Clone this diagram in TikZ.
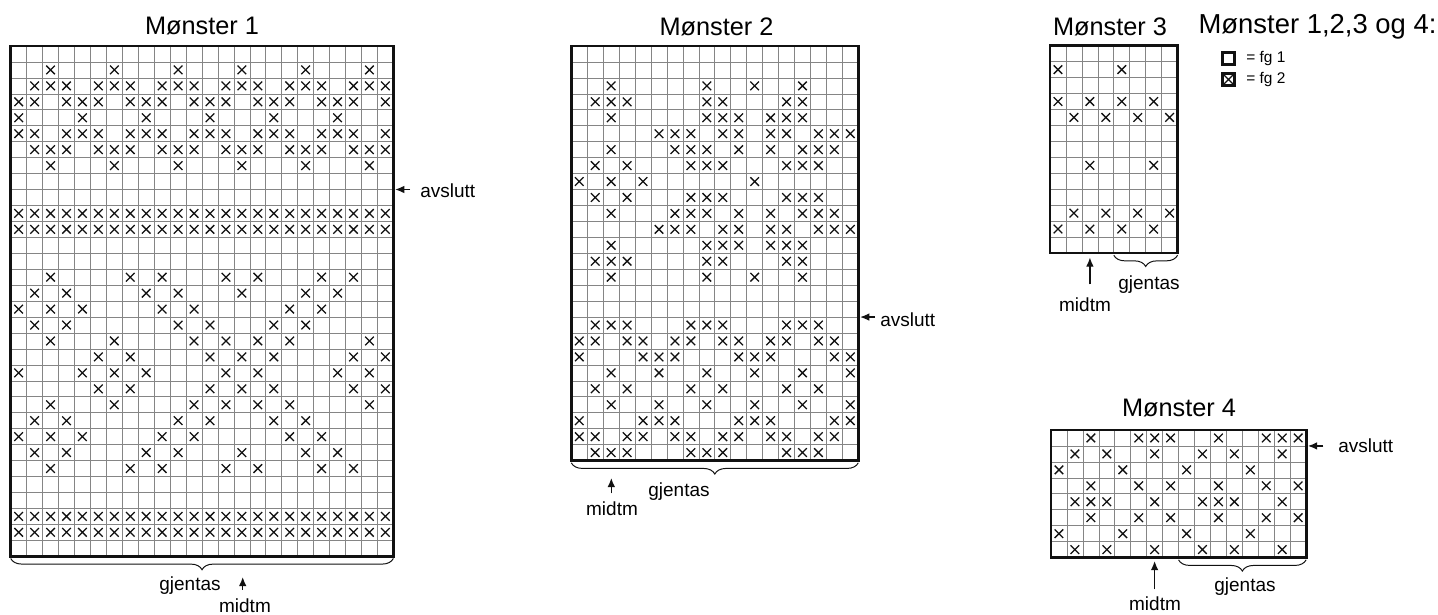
\documentclass[tikz,border=0pt]{standalone}
\usepackage{fontspec}
\setmainfont{Liberation Sans}
\usepackage{tikz}
\usetikzlibrary{arrows.meta, decorations.pathreplacing}
\definecolor{ink}{HTML}{111111}
\definecolor{rute}{HTML}{858585}

\tikzset{
  gitter/.style={draw=rute, line width=0.45pt},
  ramme/.style={draw=ink, line width=2.1pt},
  kryssl/.style={draw=ink, line width=0.9pt},
  pil/.style={draw=ink, line width=0.9pt, -{Latex[length=6.5pt,width=5.4pt]}},
  klamme/.style={draw=ink, line width=0.7pt, decorate, decoration={brace, mirror, amplitude=8pt}},
  tittel/.style={inner sep=0pt, font=\fontsize{18}{21}\selectfont},
  merk/.style={inner sep=0pt, font=\fontsize{13.5}{16}\selectfont},
  liten/.style={inner sep=0pt, font=\fontsize{11}{13}\selectfont},
  fgboks/.style={draw=ink, line width=2.2pt, minimum size=8.8pt, inner sep=0pt},
}

% grid: #1 columns, #2 rows (1 unit = one stitch)
\newcommand{\rutenett}[2]{%
  \foreach \i in {1,...,#1} {\draw[gitter] (\i,0) -- (\i,#2);}
  \foreach \j in {1,...,#2} {\draw[gitter] (0,\j) -- (#1,\j);}
}
% cross in column #1, row #2
\newcommand{\kryss}[2]{%
  \draw[kryssl] (#1-0.5,#2-0.5) +(-0.27,-0.27) -- +(0.27,0.27) +(-0.27,0.27) -- +(0.27,-0.27);
}
% list of row/{columns}
\newcommand{\rader}[1]{%
  \foreach \rad/\kol in {#1} {\foreach \k in \kol {\kryss{\k}{\rad}}}
}

\begin{document}
\begin{tikzpicture}[x=0.025cm, y=-0.025cm]
  \useasboundingbox[fill=white] (0,0) rectangle (1438,614);

  % Mønster 1
  \node[tittel] (t1) at (202,26.5) {Mønster 1};
  \begin{scope}[shift={(10.7,46)}, x=0.3985cm, y=-0.3985cm]
    \rutenett{24}{32}
    \rader{2/{3,7,11,15,19,23},
      3/{2,3,4,6,7,8,10,11,12,14,15,16,18,19,20,22,23,24},
      4/{1,2,4,5,6,8,9,10,12,13,14,16,17,18,20,21,22,24},
      5/{1,5,9,13,17,21},
      6/{1,2,4,5,6,8,9,10,12,13,14,16,17,18,20,21,22,24},
      7/{2,3,4,6,7,8,10,11,12,14,15,16,18,19,20,22,23,24},
      8/{3,7,11,15,19,23},
      11/{1,...,24}, 12/{1,...,24},
      15/{3,8,10,14,16,20,22},
      16/{2,4,9,11,15,19,21},
      17/{1,3,5,10,12,18,20},
      18/{2,4,11,13,17,19},
      19/{3,7,12,14,16,18,23},
      20/{6,8,13,15,17,22,24},
      21/{1,5,7,9,14,16,21,23},
      22/{6,8,13,15,17,22,24},
      23/{3,7,12,14,16,18,23},
      24/{2,4,11,13,17,19},
      25/{1,3,5,10,12,18,20},
      26/{2,4,9,11,15,19,21},
      27/{3,8,10,14,16,20,22},
      30/{1,...,24}, 31/{1,...,24}}
    \draw[ramme] (0,0) rectangle (24,32);
    \coordinate (k1v) at ([yshift=-1.6pt]0,32);
    \coordinate (k1h) at ([yshift=-1.6pt]24,32);
    \coordinate (k1avs) at ([xshift=1.3pt]24,9);
  \end{scope}
  \draw[klamme] (k1v) -- (k1h);
  \node[merk] (gj1) at (190,586) {gjentas};
  \node[merk] (mid1) at (245,606) {midtm};
  \coordinate (m1) at (242.7,577);
  \draw[pil, shorten <=6.5pt] (mid1.north -| m1) -- (m1);
  \node[merk, anchor=west] (avs1) at (420,190.5) {avslutt};
  \draw[pil, shorten <=7pt] (avs1.west |- k1avs) -- (k1avs);

  % Mønster 2
  \node[tittel] (t2) at (716.5,26.5) {Mønster 2};
  \begin{scope}[shift={(571.3,46)}, x=0.3985cm, y=-0.3985cm]
    \rutenett{18}{26}
    \rader{3/{3,9,12,15},
      4/{2,3,4,9,10,14,15},
      5/{3,9,10,11,13,14,15},
      6/{6,7,8,10,11,13,14,16,17,18},
      7/{3,7,8,9,11,13,15,16,17},
      8/{2,4,8,9,10,14,15,16},
      9/{1,3,5,12},
      10/{2,4,8,9,10,14,15,16},
      11/{3,7,8,9,11,13,15,16,17},
      12/{6,7,8,10,11,13,14,16,17,18},
      13/{3,9,10,11,13,14,15},
      14/{2,3,4,9,10,14,15},
      15/{3,9,12,15},
      18/{2,3,4,8,9,10,14,15,16},
      19/{1,2,4,5,7,8,10,11,13,14,16,17},
      20/{1,5,6,7,11,12,13,17,18},
      21/{3,6,9,12,15,18},
      22/{2,4,8,10,14,16},
      23/{3,6,9,12,15,18},
      24/{1,5,6,7,11,12,13,17,18},
      25/{1,2,4,5,7,8,10,11,13,14,16,17},
      26/{2,3,4,8,9,10,14,15,16}}
    \draw[ramme] (0,0) rectangle (18,26);
    \coordinate (k2v) at ([yshift=-1.6pt]0,26);
    \coordinate (k2h) at ([yshift=-1.6pt]18,26);
    \coordinate (k2avs) at ([xshift=1.3pt]18,17);
  \end{scope}
  \draw[klamme] (k2v) -- (k2h);
  \node[merk] (gj2) at (679,492) {gjentas};
  \node[merk] (mid2) at (612,509) {midtm};
  \coordinate (m2) at (611.3,478);
  \draw[pil, shorten <=6pt] (mid2.north -| m2) -- (m2);
  \node[merk, anchor=west] (avs2) at (880,320) {avslutt};
  \draw[pil, shorten <=3.5pt] (avs2.west |- k2avs) -- (k2avs);

  % Mønster 3
  \node[tittel] (t3) at (1110,26.5) {Mønster 3};
  \begin{scope}[shift={(1050,45.7)}, x=0.3985cm, y=-0.3985cm]
    \rutenett{8}{13}
    \rader{2/{1,5}, 4/{1,3,5,7}, 5/{2,4,6,8}, 8/{3,7},
      11/{2,4,6,8}, 12/{1,3,5,7}}
    \draw[ramme] (0,0) rectangle (8,13);
    \coordinate (k3v) at ([yshift=-1.6pt]4,13);
    \coordinate (k3h) at ([yshift=-1.6pt]8,13);
  \end{scope}
  \draw[klamme] (k3v) -- (k3h);
  \node[merk] (gj3) at (1149,285) {gjentas};
  \node[merk] (mid3) at (1085,305) {midtm};
  \coordinate (m3) at (1089.9,257.5);
  \draw[pil, shorten <=9.5pt] (mid3.north -| m3) -- (m3);

  % Mønster 4
  \node[tittel] (t4) at (1179,408.5) {Mønster 4};
  \begin{scope}[shift={(1051,430)}, x=0.3985cm, y=-0.3985cm]
    \rutenett{16}{8}
    \rader{1/{3,6,7,8,11,14,15,16},
      2/{2,4,7,10,12,15},
      3/{1,5,9,13},
      4/{3,6,8,11,14,16},
      5/{2,3,4,7,10,11,12,15},
      6/{3,6,8,11,14,16},
      7/{1,5,9,13},
      8/{2,4,7,10,12,15}}
    \draw[ramme] (0,0) rectangle (16,8);
    \coordinate (k4v) at ([yshift=-1.6pt]8,8);
    \coordinate (k4h) at ([yshift=-1.6pt]16,8);
    \coordinate (k4avs) at ([xshift=1.3pt]16,1);
  \end{scope}
  \draw[klamme] (k4v) -- (k4h);
  \node[merk] (gj4) at (1245,587) {gjentas};
  \node[merk] (mid4) at (1155,604) {midtm};
  \coordinate (m4) at (1154.6,561);
  \draw[pil, shorten <=5.3pt] (mid4.north -| m4) -- (m4);
  \node[merk, anchor=west] (avs4) at (1338,446) {avslutt};
  \draw[pil, shorten <=10.5pt] (avs4.west |- k4avs) -- (k4avs);

  % Legend
  \node[tittel, font=\fontsize{19.5}{22}\selectfont] (leg) at (1317.5,26.5) {Mønster 1,2,3 og 4:};
  \node[fgboks] (fg1) at (1228.5,58.5) {};
  \node[fgboks] (fg2) at (1228.5,79.5) {};
  \draw[kryssl] ([shift={(1.3pt,1.3pt)}]fg2.south west) -- ([shift={(-1.3pt,-1.3pt)}]fg2.north east)
    ([shift={(1.3pt,-1.3pt)}]fg2.north west) -- ([shift={(-1.3pt,1.3pt)}]fg2.south east);
  \node[liten, anchor=west] (fg1t) at (1246,59) {= fg 1};
  \node[liten, anchor=west] (fg2t) at (1246,80) {= fg 2};
\end{tikzpicture}
\end{document}
